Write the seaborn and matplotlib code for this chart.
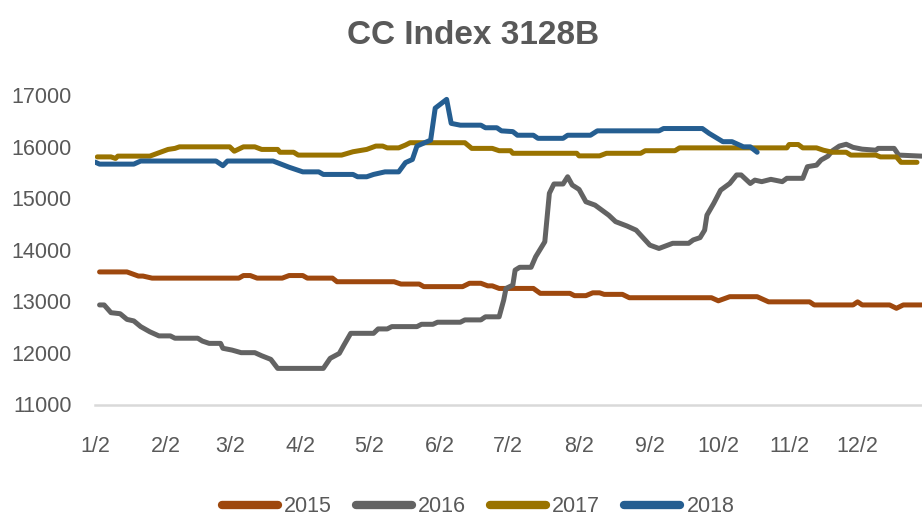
import matplotlib
matplotlib.use("Agg")
import matplotlib.pyplot as plt
from matplotlib.lines import Line2D
import seaborn as sns
import pandas as pd

# series (x = day of year, y = index price)
years = ["2015", "2016", "2017", "2018"]
colors = ["#9E480E", "#636363", "#997300", "#255E91"]

day_2015 = [4, 16, 21, 23, 27, 65, 67, 70, 73, 84, 87, 93, 95, 106, 108, 133, 136, 144, 146, 163,
            166, 171, 174, 176, 179, 194, 197, 210, 212, 217, 220, 223, 225, 233, 236, 272, 275,
            280, 292, 297, 315, 317, 334, 336, 338, 350, 353, 356, 364]
val_2015 = [13570, 13570, 13490, 13490, 13450, 13450, 13500, 13500, 13450, 13450, 13500, 13500,
            13450, 13450, 13380, 13380, 13335, 13335, 13285, 13285, 13350, 13350, 13300, 13300,
            13250, 13250, 13155, 13155, 13110, 13110, 13165, 13165, 13135, 13135, 13070, 13070,
            13010, 13090, 13090, 12990, 12990, 12930, 12930, 12990, 12930, 12930, 12865, 12930,
            12930]

day_2016 = [4, 6, 9, 13, 16, 19, 22, 26, 30, 35, 37, 47, 49, 52, 57, 58, 62, 66, 72, 75, 79, 82,
            102, 105, 109, 111, 114, 124, 126, 130, 132, 143, 145, 150, 152, 162, 164, 171, 173,
            179, 181, 182, 185, 186, 188, 193, 195, 199, 201, 203, 207, 209, 211, 214, 217, 221,
            227, 230, 235, 239, 245, 249, 255, 262, 264, 267, 269, 270, 273, 276, 280, 283, 285,
            289, 291, 294, 298, 303, 305, 312, 314, 318, 320, 323, 325, 328, 331, 334, 338, 344,
            345, 352, 354, 364]
val_2016 = [12930, 12930, 12780, 12760, 12650, 12620, 12510, 12410, 12330, 12330, 12285, 12285,
            12230, 12185, 12185, 12090, 12055, 12005, 12005, 11945, 11875, 11700, 11700, 11895,
            11990, 12150, 12380, 12380, 12465, 12465, 12510, 12510, 12555, 12555, 12595, 12595,
            12640, 12640, 12700, 12700, 13025, 13250, 13315, 13605, 13660, 13660, 13865, 14155,
            15095, 15275, 15275, 15415, 15255, 15170, 14930, 14865, 14670, 14545, 14460, 14380,
            14090, 14025, 14125, 14125, 14190, 14235, 14380, 14670, 14900, 15155, 15285, 15450,
            15450, 15285, 15350, 15320, 15365, 15320, 15385, 15385, 15610, 15640, 15740, 15815,
            15920, 16010, 16045, 15985, 15950, 15930, 15965, 15965, 15835, 15815]

day_2017 = [3, 9, 11, 12, 26, 34, 37, 39, 61, 63, 67, 72, 75, 82, 83, 89, 91, 110, 115, 121, 125,
            128, 130, 135, 138, 140, 164, 167, 176, 179, 184, 185, 213, 214, 223, 226, 241, 243,
            256, 258, 305, 306, 310, 312, 318, 321, 325, 331, 333, 344, 346, 353, 355, 362]
val_2017 = [15800, 15800, 15770, 15815, 15815, 15945, 15965, 15995, 15995, 15910, 15995, 15995,
            15945, 15945, 15890, 15890, 15835, 15835, 15900, 15945, 16010, 16010, 15975, 15975,
            16030, 16075, 16075, 15965, 15965, 15920, 15920, 15870, 15870, 15820, 15820, 15870,
            15870, 15920, 15920, 15975, 15975, 16040, 16040, 15975, 15975, 15930, 15890, 15890,
            15835, 15835, 15800, 15800, 15695, 15695]

day_2018 = [2, 4, 19, 22, 55, 58, 60, 80, 87, 93, 100, 102, 115, 117, 121, 124, 129, 135, 138,
            141, 143, 149, 151, 156, 158, 162, 171, 173, 178, 180, 185, 187, 194, 196, 207, 209,
            219, 222, 249, 251, 268, 271, 277, 281, 286, 289, 292]
val_2018 = [15700, 15660, 15660, 15720, 15720, 15630, 15720, 15720, 15600, 15510, 15510, 15460,
            15460, 15415, 15415, 15460, 15510, 15510, 15690, 15750, 16010, 16125, 16745, 16915,
            16450, 16415, 16415, 16365, 16365, 16305, 16290, 16220, 16220, 16160, 16160, 16220,
            16220, 16305, 16305, 16350, 16350, 16255, 16095, 16095, 15995, 15995, 15890]

tick_labels = ["1/2", "2/2", "3/2", "4/2", "5/2", "6/2", "7/2", "8/2", "9/2", "10/2", "11/2", "12/2"]
yticks = [11000, 12000, 13000, 14000, 15000, 16000, 17000]
title = "CC Index 3128B"

frames = []
for yr, d, v in zip(years, [day_2015, day_2016, day_2017, day_2018],
                    [val_2015, val_2016, val_2017, val_2018]):
    frames.append(pd.DataFrame({"day": d, "price": v, "year": yr}))
df = pd.concat(frames, ignore_index=True)

sns.set_style("white")
plt.rcParams["font.family"] = ["Liberation Sans", "DejaVu Sans"]
txt = "#595959"

fig = plt.figure(figsize=(9.22, 5.18), dpi=100)
ax = fig.add_axes([95 / 922, (518 - 404.5) / 518, (922 - 95) / 922, (404.5 - 95) / 518])

sns.lineplot(data=df, x="day", y="price", hue="year", palette=dict(zip(years, colors)),
             estimator=None, linewidth=3.6, solid_capstyle="round", solid_joinstyle="round",
             legend=False, ax=ax)

# ticks on the 2nd of each month
tick_pos = [pd.Timestamp(2001, m, 2).dayofyear for m in range(1, 13)]
ax.set_xlim(2, 364.2)
ax.set_ylim(11000, 17000)
ax.set_xticks(tick_pos)
ax.set_xticklabels(tick_labels)
ax.set_yticks(yticks)
ax.set_yticklabels([str(v) for v in yticks])
ax.set_xlabel("")
ax.set_ylabel("")

for s in ["top", "right", "left"]:
    ax.spines[s].set_visible(False)
ax.spines["bottom"].set_color("#d9d9d9")
ax.spines["bottom"].set_linewidth(1.8)
ax.tick_params(axis="x", direction="out", length=6, width=1.5, color="#d9d9d9",
               pad=17, labelsize=15.5, labelcolor=txt)
ax.tick_params(axis="y", length=0, pad=17, labelsize=15.5, labelcolor=txt)

fig.text(473.5 / 922, 1 - 36 / 518, title, ha="center", va="center", fontsize=24,
         fontweight="bold", color=txt)

handles = [Line2D([0], [0], color=c, lw=6, solid_capstyle="round") for c in colors]
leg = fig.legend(handles, years, loc="center", bbox_to_anchor=(478 / 922, 1 - 507 / 518),
                 ncol=4, frameon=False, handlelength=2.6, handletextpad=0.3,
                 columnspacing=1.1, fontsize=15.5)
for t in leg.get_texts():
    t.set_color(txt)

fig.savefig("out.png", dpi=100)
